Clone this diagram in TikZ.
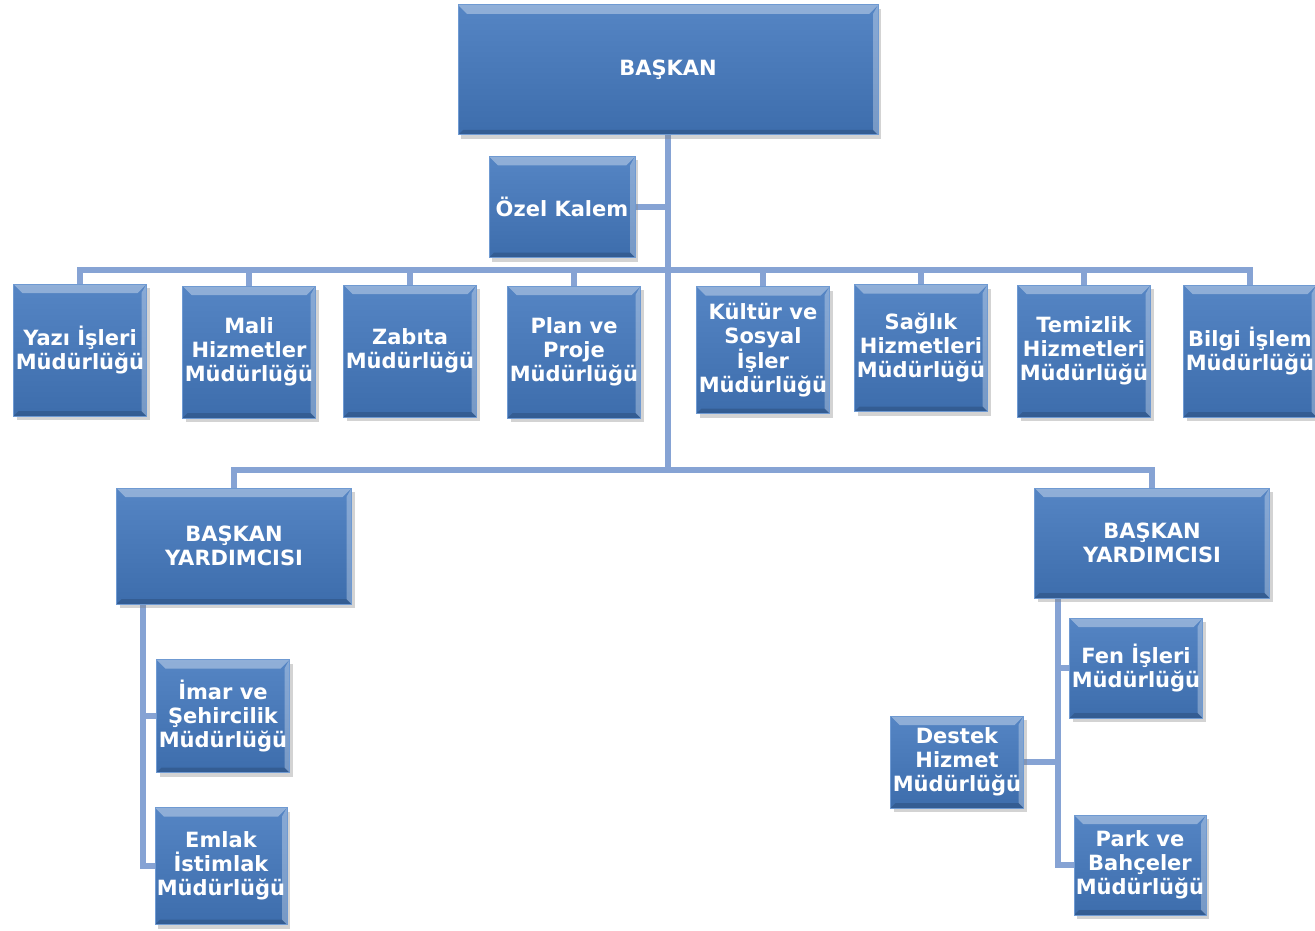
\documentclass[tikz,border=0pt]{standalone}
\usepackage{fontspec}
\setmainfont{DejaVu Sans}
\usepackage{xcolor}
\usepackage{tikz}
\usetikzlibrary{positioning, shadows, backgrounds}
\definecolor{boxtop}{HTML}{5585C4}
\definecolor{boxbot}{HTML}{3D6DAC}
\definecolor{boxedge}{HTML}{6F9AD2}
\definecolor{linkblue}{HTML}{86A3D4}
\tikzstyle{unit} = [rectangle, top color=boxtop, bottom color=boxbot, draw=boxedge, line width=1pt, text=white, font=\bfseries\fontsize{21}{24}\selectfont, align=center, inner sep=1pt, text centered, drop shadow={shadow xshift=3pt, shadow yshift=-4pt, opacity=0.35, fill=gray},
  path picture={
    \fill[white, opacity=0.35] (path picture bounding box.north west) -- (path picture bounding box.north east) -- ([xshift=-9pt,yshift=-9pt]path picture bounding box.north east) -- ([xshift=9pt,yshift=-9pt]path picture bounding box.north west) -- cycle;
    \fill[white, opacity=0.3] (path picture bounding box.north east) -- (path picture bounding box.south east) -- ([xshift=-5pt,yshift=5pt]path picture bounding box.south east) -- ([xshift=-5pt,yshift=-9pt]path picture bounding box.north east) -- cycle;
    \fill[black, opacity=0.15] (path picture bounding box.south west) -- (path picture bounding box.south east) -- ([xshift=-5pt,yshift=5pt]path picture bounding box.south east) -- ([xshift=5pt,yshift=5pt]path picture bounding box.south west) -- cycle;
  }]
\tikzstyle{mud} = [unit, minimum width=133pt, minimum height=132pt]
\tikzstyle{link} = [draw=linkblue, line width=5.5pt]

\begin{document}
\begin{tikzpicture}[x=1pt, y=-1pt]
		\useasboundingbox (0,0) rectangle (1315,931);
		%baskan ve ozel kalem
		\node[unit, minimum width=420pt, minimum height=130pt] (bas) at (668,70) {BAŞKAN};
		\node[unit, minimum width=146pt, minimum height=101pt] (ozel) at (562,207) {Özel Kalem};
		%mudurlukler
		\node[mud] (yazi) at (80,350) {Yazı İşleri\\Müdürlüğü};
		\node[mud] (mali) at (249,352) {Mali\\Hizmetler\\Müdürlüğü};
		\node[mud] (zabita) at (410,351) {Zabıta\\Müdürlüğü};
		\node[mud] (plan) at (574,352) {Plan ve\\Proje\\Müdürlüğü};
		\node[mud, minimum height=127pt] (kultur) at (763,350) {Kültür ve\\Sosyal\\İşler\\Müdürlüğü};
		\node[mud, minimum height=127pt] (saglik) at (921,348) {Sağlık\\Hizmetleri\\Müdürlüğü};
		\node[mud] (temizlik) at (1084,351) {Temizlik\\Hizmetleri\\Müdürlüğü};
		\node[mud] (bilgi) at (1250,351) {Bilgi İşlem\\Müdürlüğü};
		%baskan yardimcilari
		\node[unit, minimum width=235pt, minimum height=116pt] (yard1) at (234,546) {BAŞKAN\\YARDIMCISI};
		\node[unit, minimum width=235pt, minimum height=110pt] (yard2) at (1152,543) {BAŞKAN\\YARDIMCISI};
		\node[mud, minimum height=113pt] (imar) at (223,716) {İmar ve\\Şehircilik\\Müdürlüğü};
		\node[mud, minimum width=132pt, minimum height=117pt] (emlak) at (221,866) {Emlak\\İstimlak\\Müdürlüğü};
		\node[mud, minimum height=100pt] (fen) at (1136,668) {Fen İşleri\\Müdürlüğü};
		\node[mud, minimum height=92pt] (destek) at (957,762) {Destek\\Hizmet\\Müdürlüğü};
		\node[mud, minimum width=132pt, minimum height=100pt] (park) at (1140,865) {Park ve\\Bahçeler\\Müdürlüğü};
		\coordinate (bus1) at (668,270);
		\coordinate (bus2) at (668,470);
		\coordinate (sol) at (143,604);
		\coordinate (sag) at (1058,598);
		%baglantilar
		\begin{scope}[on background layer]
		\draw [link] (bas) -- (bus2);
		\draw [link] (ozel.east) -- (ozel.east -| bus1);
		\foreach \m in {yazi, mali, zabita, plan, kultur, saglik, temizlik, bilgi}
			\draw [link] (\m.north) |- (bus1);
		\draw [link] (yard1.north) |- (bus2);
		\draw [link] (yard2.north) |- (bus2);
		\draw [link] (sol) |- (imar.west);
		\draw [link] (sol) |- (emlak.west);
		\draw [link] (sag) |- (fen.west);
		\draw [link] (sag) |- (park.west);
		\draw [link] (destek.east) -- (destek.east -| sag);
		\end{scope}
	\end{tikzpicture}
\end{document}
